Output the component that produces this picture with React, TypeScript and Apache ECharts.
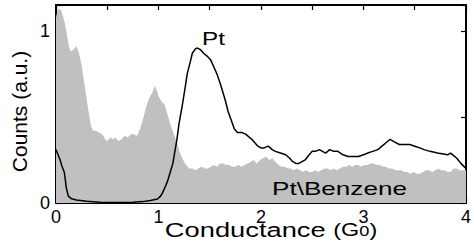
import React, { useEffect, useRef } from "react";
import * as echarts from "echarts";

// Pt\Benzene histogram (grey filled area)
const benzeneG = [0, 0.02, 0.05, 0.08, 0.1, 0.12, 0.14, 0.17, 0.2, 0.22, 0.25, 0.28, 0.31, 0.34, 0.36, 0.39, 0.42, 0.45, 0.48, 0.5, 0.53, 0.56, 0.58, 0.61, 0.64, 0.67, 0.7, 0.73, 0.76, 0.79, 0.82, 0.85, 0.88, 0.91, 0.94, 0.96, 0.98, 1.0, 1.03, 1.06, 1.09, 1.12, 1.15, 1.18, 1.21, 1.24, 1.27, 1.3, 1.33, 1.36, 1.39, 1.42, 1.45, 1.48, 1.51, 1.54, 1.57, 1.6, 1.63, 1.66, 1.69, 1.72, 1.75, 1.78, 1.81, 1.84, 1.87, 1.9, 1.93, 1.96, 1.99, 2.02, 2.05, 2.08, 2.11, 2.14, 2.17, 2.2, 2.23, 2.26, 2.29, 2.32, 2.35, 2.38, 2.41, 2.44, 2.47, 2.5, 2.53, 2.56, 2.59, 2.62, 2.65, 2.68, 2.71, 2.74, 2.77, 2.8, 2.83, 2.86, 2.89, 2.92, 2.95, 2.98, 3.01, 3.04, 3.07, 3.1, 3.13, 3.16, 3.19, 3.22, 3.25, 3.28, 3.31, 3.34, 3.37, 3.4, 3.43, 3.46, 3.49, 3.52, 3.55, 3.58, 3.61, 3.64, 3.67, 3.7, 3.73, 3.76, 3.79, 3.82, 3.85, 3.88, 3.91, 3.94, 3.97, 4.0];
const benzeneCounts = [1.08, 1.13, 1.12, 1.06, 1.0, 0.93, 0.88, 0.89, 0.91, 0.88, 0.8, 0.68, 0.56, 0.45, 0.42, 0.42, 0.41, 0.4, 0.37, 0.36, 0.38, 0.37, 0.38, 0.36, 0.37, 0.39, 0.38, 0.4, 0.4, 0.39, 0.43, 0.49, 0.56, 0.61, 0.64, 0.68, 0.66, 0.62, 0.59, 0.57, 0.51, 0.45, 0.4, 0.35, 0.29, 0.25, 0.22, 0.2, 0.2, 0.19, 0.2, 0.21, 0.2, 0.2, 0.21, 0.22, 0.21, 0.23, 0.23, 0.22, 0.22, 0.21, 0.21, 0.22, 0.21, 0.22, 0.23, 0.24, 0.25, 0.23, 0.25, 0.26, 0.27, 0.25, 0.26, 0.24, 0.22, 0.21, 0.21, 0.2, 0.2, 0.19, 0.2, 0.19, 0.18, 0.19, 0.18, 0.18, 0.19, 0.18, 0.19, 0.2, 0.2, 0.19, 0.2, 0.19, 0.2, 0.21, 0.21, 0.22, 0.21, 0.22, 0.22, 0.21, 0.22, 0.22, 0.23, 0.23, 0.22, 0.22, 0.21, 0.21, 0.2, 0.2, 0.19, 0.19, 0.19, 0.18, 0.18, 0.17, 0.18, 0.17, 0.17, 0.18, 0.19, 0.19, 0.18, 0.19, 0.2, 0.19, 0.19, 0.18, 0.18, 0.2, 0.2, 0.19, 0.19, 0.19];

// Pt histogram (black line)
const ptG = [0, 0.02, 0.04, 0.06, 0.08, 0.09, 0.1, 0.12, 0.15, 0.2, 0.3, 0.43, 0.6, 0.75, 0.85, 0.92, 0.99, 1.02, 1.04, 1.07, 1.09, 1.12, 1.14, 1.16, 1.18, 1.2, 1.23, 1.26, 1.28, 1.31, 1.33, 1.36, 1.38, 1.41, 1.44, 1.48, 1.51, 1.54, 1.57, 1.61, 1.65, 1.68, 1.71, 1.74, 1.77, 1.81, 1.85, 1.89, 1.91, 1.94, 1.97, 2.0, 2.03, 2.07, 2.11, 2.14, 2.19, 2.24, 2.28, 2.31, 2.34, 2.37, 2.4, 2.43, 2.47, 2.5, 2.53, 2.57, 2.6, 2.63, 2.67, 2.71, 2.75, 2.8, 2.85, 2.9, 2.95, 3.0, 3.04, 3.09, 3.14, 3.18, 3.22, 3.26, 3.3, 3.35, 3.4, 3.45, 3.5, 3.55, 3.59, 3.65, 3.72, 3.78, 3.82, 3.85, 3.88, 3.91, 3.95, 4.0];
const ptCounts = [0.31, 0.28, 0.25, 0.21, 0.18, 0.14, 0.09, 0.04, 0.025, 0.017, 0.01, 0.005, 0.003, 0.004, 0.008, 0.014, 0.023, 0.04, 0.06, 0.1, 0.13, 0.19, 0.23, 0.3, 0.37, 0.46, 0.56, 0.67, 0.75, 0.82, 0.87, 0.895, 0.9, 0.89, 0.87, 0.85, 0.83, 0.79, 0.75, 0.68, 0.6, 0.53, 0.48, 0.43, 0.41, 0.41, 0.4, 0.38, 0.37, 0.35, 0.33, 0.32, 0.32, 0.33, 0.31, 0.3, 0.29, 0.28, 0.26, 0.24, 0.23, 0.23, 0.24, 0.25, 0.28, 0.3, 0.3, 0.31, 0.3, 0.29, 0.31, 0.3, 0.3, 0.28, 0.27, 0.27, 0.27, 0.28, 0.29, 0.3, 0.31, 0.33, 0.35, 0.37, 0.355, 0.34, 0.34, 0.34, 0.33, 0.32, 0.31, 0.3, 0.29, 0.285, 0.28, 0.29, 0.275, 0.26, 0.23, 0.2];

const xTickLabels = ["0", "1", "2", "3", "4"];
const yTickLabels = ["0", "1"];

const FONT = "'Liberation Sans', Arial, Helvetica, sans-serif";

export default function App() {
  const ref = useRef<HTMLDivElement>(null);
  useEffect(() => {
    const chart = echarts.init(ref.current!, null, { renderer: "svg" });
    const axisLineStyle = { color: "#000", width: 2 };
    const tick = { inside: true, length: 5, lineStyle: { color: "#000", width: 1.2 } };
    const xFmt = (v: number) => (xTickLabels.includes(String(v)) ? String(v) : "");
    const yFmt = (v: number) => (yTickLabels.includes(String(v)) ? String(v) : "");
    chart.setOption({
      animation: false,
      grid: { left: 56, right: 5, top: 5, bottom: 41 },
      xAxis: [
        {
          type: "value", min: 0, max: 4, interval: 0.5, position: "bottom",
          axisLine: { onZero: false, lineStyle: axisLineStyle }, axisTick: tick,
          axisLabel: { formatter: xFmt, color: "#000", fontSize: 18, fontFamily: FONT, margin: 5 },
          splitLine: { show: false },
        },
        {
          type: "value", min: 0, max: 4, interval: 0.5, position: "top",
          axisLine: { onZero: false, lineStyle: axisLineStyle }, axisTick: tick,
          axisLabel: { show: false }, splitLine: { show: false },
        },
      ],
      yAxis: [
        {
          type: "value", min: 0, max: 1.15, interval: 0.5, position: "left",
          axisLine: { onZero: false, lineStyle: axisLineStyle }, axisTick: tick,
          axisLabel: { formatter: yFmt, color: "#000", fontSize: 18, fontFamily: FONT, margin: 6 },
          splitLine: { show: false },
        },
        {
          type: "value", min: 0, max: 1.15, interval: 0.5, position: "right",
          axisLine: { onZero: false, lineStyle: axisLineStyle }, axisTick: tick,
          axisLabel: { show: false }, splitLine: { show: false },
        },
      ],
      series: [
        {
          type: "line", name: "Pt\\Benzene", xAxisIndex: 0, yAxisIndex: 0,
          data: benzeneG.map((g, i) => [g, benzeneCounts[i]]),
          symbol: "none", lineStyle: { width: 0 },
          areaStyle: { color: "#c0c0c0", opacity: 1 }, silent: true, z: 1,
        },
        {
          type: "line", name: "Pt", xAxisIndex: 0, yAxisIndex: 0,
          data: ptG.map((g, i) => [g, ptCounts[i]]),
          symbol: "none", lineStyle: { color: "#000", width: 1.5 }, silent: true, z: 2,
        },
      ],
      graphic: [
        {
          type: "text", x: 213.5, y: 39, scaleX: 1.35, z: 10,
          style: { text: "Pt", font: `18px ${FONT}`, fill: "#000", align: "center", verticalAlign: "middle" },
        },
        {
          type: "text", x: 339.5, y: 189, scaleX: 1.45, z: 10,
          style: { text: "Pt\\Benzene", font: `18px ${FONT}`, fill: "#000", align: "center", verticalAlign: "middle" },
        },
        {
          type: "text", x: 271, y: 231, scaleX: 1.3, z: 10,
          style: {
            text: "{a|Conductance }{b|(G}{c|0}{b|)}",
            align: "center", verticalAlign: "middle", fill: "#000",
            rich: {
              a: { fontSize: 21, fontFamily: FONT, fill: "#000", padding: [0, 0, 3, 0] },
              b: { fontSize: 18, fontFamily: FONT, fill: "#000", padding: [0, 0, 3, 0] },
              c: { fontSize: 14, fontFamily: FONT, fill: "#000" },
            },
          },
        },
        {
          type: "text", x: 19.5, y: 111.5, rotation: Math.PI / 2, z: 10,
          style: { text: "Counts (a.u.)", font: `21px ${FONT}`, fill: "#000", align: "center", verticalAlign: "middle" },
        },
      ],
    });
    return () => chart.dispose();
  }, []);
  return <div ref={ref} style={{ position: "absolute", left: 0, top: 0, width: 474, height: 244 }} />;
}
